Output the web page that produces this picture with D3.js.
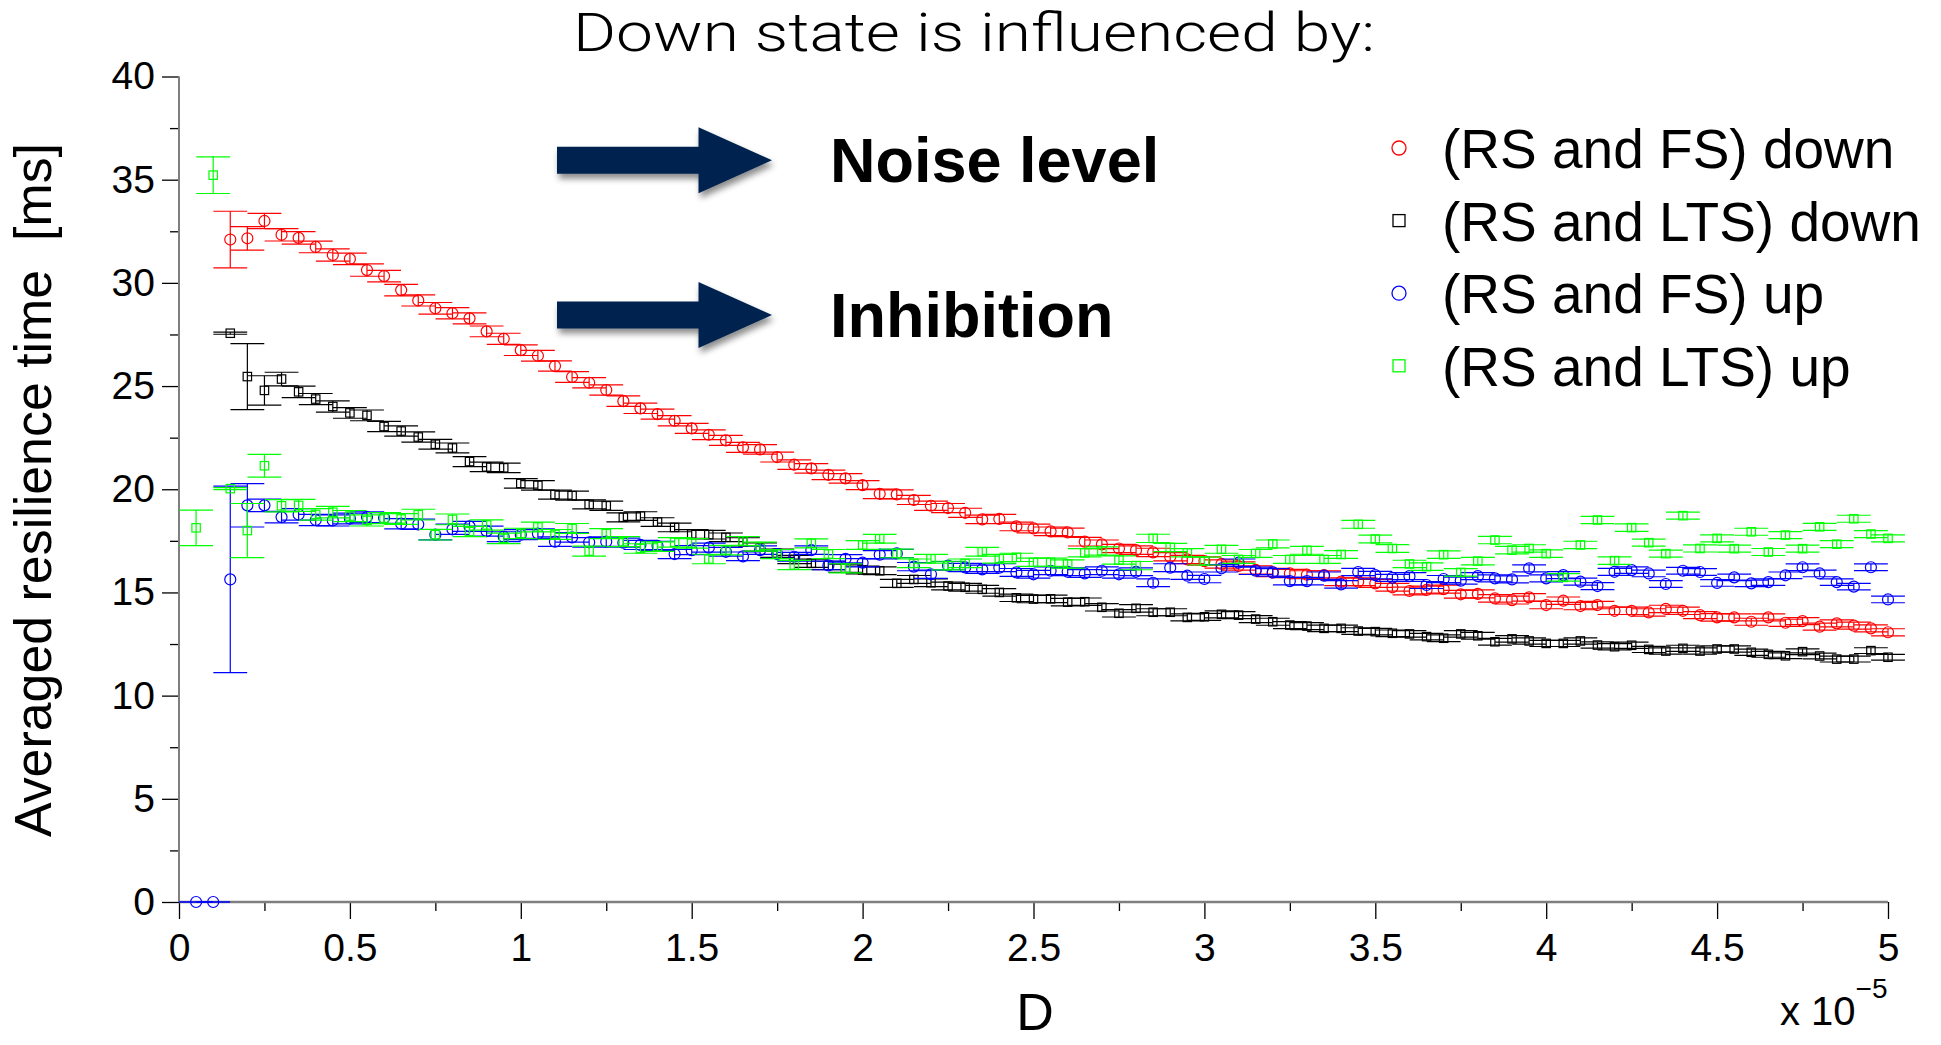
<!DOCTYPE html>
<html>
<head>
<meta charset="utf-8">
<script src="https://cdn.jsdelivr.net/npm/d3@7/dist/d3.min.js"></script>
<style>
  html, body { margin: 0; padding: 0; background: #ffffff; }
  svg { display: block; }
</style>
</head>
<body>
<svg id="chart" width="1941" height="1045"></svg>
<script>
// Noise amplitude D (axis units of 1e-5)
const dValues = [
  0.05, 0.10, 0.15, 0.20, 0.25, 0.30, 0.35, 0.40, 0.45, 0.50,
  0.55, 0.60, 0.65, 0.70, 0.75, 0.80, 0.85, 0.90, 0.95, 1.00,
  1.05, 1.10, 1.15, 1.20, 1.25, 1.30, 1.35, 1.40, 1.45, 1.50,
  1.55, 1.60, 1.65, 1.70, 1.75, 1.80, 1.85, 1.90, 1.95, 2.00,
  2.05, 2.10, 2.15, 2.20, 2.25, 2.30, 2.35, 2.40, 2.45, 2.50,
  2.55, 2.60, 2.65, 2.70, 2.75, 2.80, 2.85, 2.90, 2.95, 3.00,
  3.05, 3.10, 3.15, 3.20, 3.25, 3.30, 3.35, 3.40, 3.45, 3.50,
  3.55, 3.60, 3.65, 3.70, 3.75, 3.80, 3.85, 3.90, 3.95, 4.00,
  4.05, 4.10, 4.15, 4.20, 4.25, 4.30, 4.35, 4.40, 4.45, 4.50,
  4.55, 4.60, 4.65, 4.70, 4.75, 4.80, 4.85, 4.90, 4.95, 5.00
];

// Averaged resilience time [ms]
const rsFsDown = [
  null, null, 32.10, 32.16, 33.00, 32.33, 32.18, 31.74, 31.35, 31.16,
  30.62, 30.33, 29.65, 29.15, 28.77, 28.53, 28.28, 27.65, 27.29, 26.74,
  26.47, 25.97, 25.44, 25.16, 24.81, 24.27, 23.92, 23.64, 23.32, 22.95,
  22.64, 22.37, 22.03, 21.93, 21.56, 21.19, 21.01, 20.70, 20.53, 20.20,
  19.78, 19.75, 19.48, 19.20, 19.09, 18.86, 18.54, 18.56, 18.20, 18.10,
  17.96, 17.91, 17.46, 17.33, 17.13, 17.05, 16.94, 16.73, 16.60, 16.52,
  16.38, 16.28, 16.09, 15.97, 15.92, 15.86, 15.84, 15.52, 15.52, 15.44,
  15.25, 15.07, 15.12, 15.16, 14.91, 14.93, 14.71, 14.63, 14.76, 14.39,
  14.60, 14.34, 14.39, 14.11, 14.11, 14.03, 14.20, 14.11, 13.90, 13.79,
  13.79, 13.58, 13.79, 13.53, 13.61, 13.34, 13.50, 13.39, 13.26, 13.07
];
const rsLtsDown = [
  null, null, 27.56, 25.46, 24.79, 25.34, 24.72, 24.37, 24.01, 23.70,
  23.58, 23.04, 22.82, 22.53, 22.18, 22.00, 21.34, 21.08, 21.04, 20.28,
  20.19, 19.74, 19.69, 19.27, 19.20, 18.64, 18.70, 18.41, 18.15, 17.83,
  17.80, 17.67, 17.45, 17.20, 16.90, 16.60, 16.41, 16.31, 16.17, 16.09,
  16.05, 15.44, 15.63, 15.47, 15.31, 15.25, 15.15, 15.00, 14.74, 14.68,
  14.69, 14.53, 14.55, 14.28, 13.99, 14.23, 14.04, 14.04, 13.79, 13.82,
  13.94, 13.90, 13.71, 13.58, 13.42, 13.37, 13.26, 13.26, 13.13, 13.10,
  13.02, 12.99, 12.86, 12.78, 12.99, 12.90, 12.61, 12.75, 12.65, 12.53,
  12.53, 12.65, 12.45, 12.37, 12.44, 12.24, 12.16, 12.29, 12.16, 12.26,
  12.26, 12.10, 12.00, 11.93, 12.13, 11.92, 11.77, 11.77, 12.18, 11.86
];
const rsFsUp = [
  0.00, 0.00, 15.63, 19.22, 19.22, 18.65, 18.78, 18.51, 18.49, 18.58,
  18.65, 18.61, 18.33, 18.30, 17.80, 18.06, 18.20, 17.97, 17.70, 17.80,
  17.85, 17.46, 17.67, 17.43, 17.46, 17.41, 17.30, 17.26, 16.86, 17.05,
  17.17, 16.97, 16.75, 17.05, 16.86, 16.73, 17.05, 16.31, 16.63, 16.44,
  16.83, 16.89, 16.25, 15.88, 16.30, 16.21, 16.12, 16.20, 15.97, 15.88,
  16.05, 16.00, 15.92, 16.05, 15.88, 16.00, 15.47, 16.20, 15.81, 15.65,
  16.17, 16.44, 16.05, 15.97, 15.55, 15.55, 15.81, 15.39, 15.99, 15.84,
  15.71, 15.79, 15.36, 15.65, 15.57, 15.79, 15.68, 15.63, 16.17, 15.68,
  15.84, 15.52, 15.31, 16.00, 16.08, 15.92, 15.41, 16.05, 15.99, 15.46,
  15.73, 15.44, 15.50, 15.83, 16.22, 15.92, 15.50, 15.28, 16.22, 14.66
];
const rsLtsUp = [
  18.13, 35.22, 20.03, 18.00, 21.14, 19.20, 19.22, 18.78, 18.89, 18.70,
  18.49, 18.60, 18.56, 18.77, 17.80, 18.54, 17.95, 18.27, 17.62, 17.86,
  18.17, 17.81, 18.10, 17.00, 17.85, 17.46, 17.13, 17.22, 17.43, 17.38,
  16.62, 17.05, 17.49, 17.22, 16.86, 16.33, 17.38, 16.86, 16.17, 17.30,
  17.60, 16.89, 16.41, 16.63, 16.30, 16.41, 16.97, 16.63, 16.70, 16.46,
  16.46, 16.38, 16.92, 17.01, 16.57, 16.30, 17.62, 17.18, 16.92, 16.52,
  17.09, 16.60, 16.89, 17.35, 16.60, 17.04, 16.60, 16.84, 18.30, 17.59,
  17.13, 16.38, 16.25, 16.83, 15.97, 16.52, 17.54, 17.05, 17.13, 16.88,
  15.73, 17.30, 18.51, 16.54, 18.14, 17.41, 16.88, 18.72, 17.13, 17.62,
  17.12, 17.94, 16.96, 17.78, 17.12, 18.18, 17.34, 18.57, 17.83, 17.62
];

// Half-length of each vertical error bar [ms]
const rsFsDownErr = [
  null, null, 1.37, 0.57, 0.37, 0.30, 0.30, 0.28, 0.30, 0.28,
  0.30, 0.28, 0.28, 0.27, 0.28, 0.27, 0.27, 0.26, 0.27, 0.26,
  0.26, 0.25, 0.26, 0.25, 0.25, 0.25, 0.25, 0.24, 0.25, 0.24,
  0.24, 0.24, 0.24, 0.23, 0.24, 0.23, 0.23, 0.23, 0.23, 0.22,
  0.23, 0.22, 0.22, 0.22, 0.22, 0.22, 0.21, 0.22, 0.21, 0.21,
  0.21, 0.21, 0.21, 0.21, 0.20, 0.21, 0.20, 0.20, 0.20, 0.20,
  0.20, 0.20, 0.20, 0.20, 0.20, 0.19, 0.20, 0.19, 0.19, 0.19,
  0.19, 0.19, 0.19, 0.19, 0.19, 0.19, 0.18, 0.19, 0.18, 0.18,
  0.18, 0.18, 0.18, 0.18, 0.18, 0.18, 0.18, 0.18, 0.17, 0.18,
  0.17, 0.17, 0.17, 0.17, 0.17, 0.17, 0.17, 0.17, 0.17, 0.17
];
const rsLtsDownErr = [
  null, null, 0.05, 1.60, 0.71, 0.33, 0.28, 0.27, 0.27, 0.26,
  0.26, 0.25, 0.25, 0.25, 0.24, 0.24, 0.24, 0.23, 0.23, 0.23,
  0.23, 0.22, 0.22, 0.22, 0.22, 0.22, 0.21, 0.21, 0.21, 0.21,
  0.21, 0.21, 0.20, 0.20, 0.20, 0.20, 0.20, 0.20, 0.20, 0.19,
  0.19, 0.19, 0.19, 0.19, 0.19, 0.19, 0.19, 0.18, 0.18, 0.18,
  0.18, 0.18, 0.18, 0.18, 0.18, 0.18, 0.17, 0.17, 0.17, 0.17,
  0.17, 0.17, 0.17, 0.17, 0.17, 0.17, 0.16, 0.16, 0.16, 0.16,
  0.16, 0.16, 0.16, 0.16, 0.16, 0.16, 0.16, 0.16, 0.15, 0.15,
  0.15, 0.15, 0.15, 0.15, 0.15, 0.15, 0.15, 0.15, 0.15, 0.15,
  0.15, 0.15, 0.14, 0.14, 0.14, 0.14, 0.14, 0.14, 0.14, 0.14
];
const rsFsUpErr = [
  0.00, 0.00, 4.52, 1.05, 0.30, 0.28, 0.28, 0.27, 0.27, 0.26,
  0.26, 0.26, 0.25, 0.25, 0.25, 0.25, 0.24, 0.24, 0.24, 0.24,
  0.23, 0.23, 0.23, 0.23, 0.23, 0.22, 0.22, 0.22, 0.22, 0.22,
  0.22, 0.21, 0.21, 0.21, 0.21, 0.21, 0.21, 0.21, 0.20, 0.20,
  0.20, 0.20, 0.20, 0.20, 0.20, 0.20, 0.20, 0.19, 0.19, 0.19,
  0.19, 0.19, 0.19, 0.19, 0.19, 0.19, 0.19, 0.19, 0.18, 0.18,
  0.18, 0.18, 0.18, 0.18, 0.18, 0.18, 0.18, 0.18, 0.18, 0.18,
  0.17, 0.17, 0.17, 0.17, 0.17, 0.17, 0.17, 0.17, 0.17, 0.17,
  0.17, 0.17, 0.17, 0.17, 0.16, 0.16, 0.16, 0.16, 0.16, 0.16,
  0.16, 0.16, 0.16, 0.16, 0.16, 0.16, 0.16, 0.16, 0.16, 0.16
];
const rsLtsUpErr = [
  0.86, 0.89, 0.05, 1.31, 0.55, 0.30, 0.29, 0.28, 0.28, 0.27,
  0.27, 0.27, 0.26, 0.26, 0.26, 0.26, 0.25, 0.25, 0.25, 0.25,
  0.24, 0.24, 0.24, 0.24, 0.24, 0.24, 0.23, 0.23, 0.23, 0.23,
  0.23, 0.23, 0.22, 0.22, 0.22, 0.22, 0.22, 0.22, 0.22, 0.21,
  0.21, 0.21, 0.21, 0.21, 0.21, 0.21, 0.21, 0.21, 0.20, 0.20,
  0.20, 0.20, 0.20, 0.20, 0.20, 0.20, 0.20, 0.20, 0.20, 0.19,
  0.19, 0.19, 0.19, 0.19, 0.19, 0.19, 0.19, 0.19, 0.19, 0.19,
  0.19, 0.18, 0.18, 0.18, 0.18, 0.18, 0.18, 0.18, 0.18, 0.18,
  0.18, 0.18, 0.18, 0.18, 0.18, 0.17, 0.17, 0.17, 0.17, 0.17,
  0.17, 0.17, 0.17, 0.17, 0.17, 0.17, 0.17, 0.17, 0.17, 0.17
];

const seriesNames = ["(RS and FS) down", "(RS and LTS) down", "(RS and FS) up", "(RS and LTS) up"];
const seriesColors = ["#ff0000", "#000000", "#0000ff", "#00ff00"];
const seriesMarkers = ["circle", "square", "circle", "square"];

const xTickValues = [0, 0.5, 1, 1.5, 2, 2.5, 3, 3.5, 4, 4.5, 5];
const xTickLabels = ["0", "0.5", "1", "1.5", "2", "2.5", "3", "3.5", "4", "4.5", "5"];
const xMinorTicks = [0.25, 0.75, 1.25, 1.75, 2.25, 2.75, 3.25, 3.75, 4.25, 4.75];
const yTickValues = [0, 5, 10, 15, 20, 25, 30, 35, 40];
const yTickLabels = ["0", "5", "10", "15", "20", "25", "30", "35", "40"];
const yMinorTicks = [2.5, 7.5, 12.5, 17.5, 22.5, 27.5, 32.5, 37.5];

const influences = ["Noise level", "Inhibition"];

// ---- layout ----
const FONT = "'Liberation Sans', Arial, Helvetica, sans-serif";
const capHalf = 0.0495;          // error-bar cap half width in D units
const svg = d3.select("#chart");

const defs = svg.append("defs");
const shadow = defs.append("filter").attr("id", "arrowShadow")
  .attr("x", "-20%").attr("y", "-30%").attr("width", "150%").attr("height", "180%");
shadow.append("feDropShadow")
  .attr("dx", 2).attr("dy", 5).attr("stdDeviation", 3)
  .attr("flood-color", "#000").attr("flood-opacity", 0.45);

const x = d3.scaleLinear().domain([0, 5]).range([179, 1888]);
const y = d3.scaleLinear().domain([0, 40]).range([902, 76.5]);

// ---- axes ----
const yAxis = svg.append("g").attr("transform", "translate(179,0)")
  .call(d3.axisLeft(y).tickValues(yTickValues).tickSize(17).tickPadding(7)
        .tickFormat((d, i) => yTickLabels[i]));
const yMinor = svg.append("g").attr("transform", "translate(179,0)")
  .call(d3.axisLeft(y).tickValues(yMinorTicks).tickSize(9).tickFormat(""));
const xAxis = svg.append("g").attr("transform", "translate(0,902)")
  .call(d3.axisBottom(x).tickValues(xTickValues).tickSize(17).tickPadding(14)
        .tickFormat((d, i) => xTickLabels[i]));
const xMinor = svg.append("g").attr("transform", "translate(0,902)")
  .call(d3.axisBottom(x).tickValues(xMinorTicks).tickSize(9).tickFormat(""));

[yAxis, yMinor, xAxis, xMinor].forEach(g => {
  g.select(".domain").remove();
  g.selectAll(".tick line").attr("stroke", "#000").attr("stroke-width", 1.3);
  g.selectAll(".tick text").attr("fill", "#000")
    .style("font-family", FONT).style("font-size", "39px");
});

// axis lines
svg.append("line").attr("x1", 179).attr("x2", 179).attr("y1", y(40)).attr("y2", y(0))
  .attr("stroke", "#7f7f7f").attr("stroke-width", 2);
svg.append("line").attr("x1", 179).attr("x2", x(5)).attr("y1", y(0)).attr("y2", y(0))
  .attr("stroke", "#7f7f7f").attr("stroke-width", 2.5);

// ---- series with error bars ----
const seriesValues = [rsFsDown, rsLtsDown, rsFsUp, rsLtsUp];
const seriesErrors = [rsFsDownErr, rsLtsDownErr, rsFsUpErr, rsLtsUpErr];

const plot = svg.append("g");
seriesValues.forEach((vals, s) => {
  const color = seriesColors[s];
  const pts = dValues.map((d, i) => ({ d, v: vals[i], e: seriesErrors[s][i] }))
    .filter(p => p.v !== null);
  const g = plot.append("g").attr("stroke", color).attr("fill", "none").attr("stroke-width", 1.2);

  const bars = g.selectAll("g.bar").data(pts).join("g").attr("class", "bar");
  bars.append("line")
    .attr("x1", p => x(p.d)).attr("x2", p => x(p.d))
    .attr("y1", p => y(p.v - p.e)).attr("y2", p => y(p.v + p.e));
  bars.append("line")
    .attr("x1", p => x(p.d - capHalf)).attr("x2", p => x(p.d + capHalf))
    .attr("y1", p => y(p.v + p.e)).attr("y2", p => y(p.v + p.e));
  bars.append("line")
    .attr("x1", p => x(p.d - capHalf)).attr("x2", p => x(p.d + capHalf))
    .attr("y1", p => y(p.v - p.e)).attr("y2", p => y(p.v - p.e));

  if (seriesMarkers[s] === "circle") {
    g.selectAll("circle").data(pts).join("circle")
      .attr("cx", p => x(p.d)).attr("cy", p => y(p.v)).attr("r", 5.5);
  } else {
    g.selectAll("rect").data(pts).join("rect")
      .attr("x", p => x(p.d) - 4.2).attr("y", p => y(p.v) - 4.2)
      .attr("width", 8.4).attr("height", 8.4);
  }
});

// ---- legend ----
const legend = svg.append("g");
seriesNames.forEach((name, s) => {
  const cy = 148 + s * 72.6;
  if (seriesMarkers[s] === "circle") {
    legend.append("circle").attr("cx", 1399).attr("cy", cy).attr("r", 7)
      .attr("fill", "none").attr("stroke", seriesColors[s]).attr("stroke-width", 1.3);
  } else {
    legend.append("rect").attr("x", 1399 - 6).attr("y", cy - 6).attr("width", 12).attr("height", 12)
      .attr("fill", "none").attr("stroke", seriesColors[s]).attr("stroke-width", 1.3);
  }
  legend.append("text").attr("x", 1442).attr("y", cy + 20)
    .style("font-family", FONT).style("font-size", "55px").attr("fill", "#000")
    .text(name);
});

// ---- arrows and influence labels ----
const arrowShape = (cy) => {
  const pts = [[557, cy - 13.5], [698.5, cy - 13.5], [698.5, cy - 33], [772, cy],
               [698.5, cy + 33], [698.5, cy + 13.5], [557, cy + 13.5]];
  return "M" + pts.map(p => p.join(",")).join("L") + "Z";
};
const arrowCenters = [160.2, 315];
influences.forEach((label, k) => {
  svg.append("path").attr("d", arrowShape(arrowCenters[k]))
    .attr("fill", "#02244f").attr("filter", "url(#arrowShadow)");
  svg.append("text").attr("x", 830).attr("y", arrowCenters[k] + 21.5)
    .style("font-family", FONT).style("font-weight", "bold").style("font-size", "63px")
    .attr("fill", "#000").text(label);
});

// ---- titles ----
svg.append("text").attr("x", 573).attr("y", 51)
  .attr("textLength", 802).attr("lengthAdjust", "spacingAndGlyphs")
  .style("font-family", "Roboto, 'Liberation Sans', sans-serif").style("font-weight", 300)
  .style("font-size", "54px").attr("fill", "#000")
  .text("Down state is influenced by:");

svg.append("text").attr("transform", "translate(51,490) rotate(-90)")
  .attr("text-anchor", "middle").attr("xml:space", "preserve")
  .style("white-space", "pre")
  .attr("textLength", 694).attr("lengthAdjust", "spacingAndGlyphs")
  .style("font-family", FONT).style("font-size", "52px").attr("fill", "#000")
  .text("Averaged resilience time  [ms]");

svg.append("text").attr("x", 1035).attr("y", 1030).attr("text-anchor", "middle")
  .style("font-family", FONT).style("font-size", "52px").attr("fill", "#000").text("D");

const expo = svg.append("text").attr("x", 1780).attr("y", 1025)
  .style("font-family", FONT).style("font-size", "40px").attr("fill", "#000");
expo.append("tspan").text("x 10");
expo.append("tspan").attr("dy", -27).style("font-size", "28px").text("\u22125");
</script>
</body>
</html>
